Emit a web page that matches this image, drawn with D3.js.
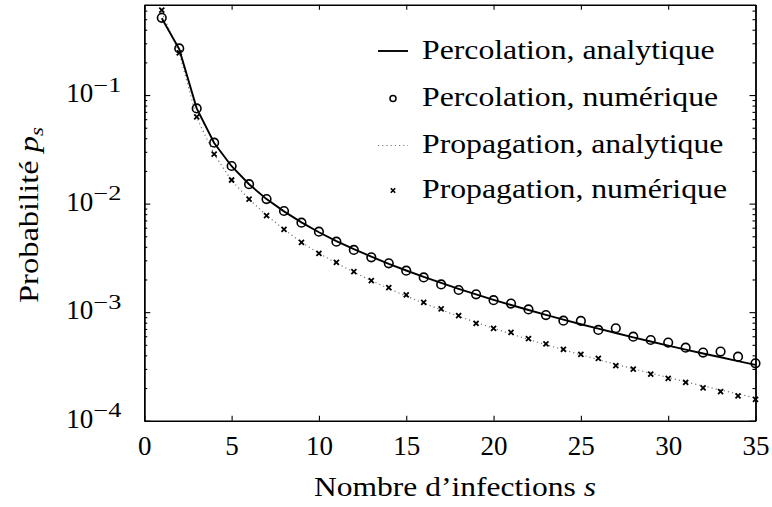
<!DOCTYPE html>
<html>
<head>
<meta charset="utf-8">
<script src="https://cdn.jsdelivr.net/npm/d3@7"></script>
<style>
  html, body { margin: 0; padding: 0; background: #fff; }
  svg text { font-family: "Liberation Serif", "Times New Roman", serif; fill: #000; }
</style>
</head>
<body>
<svg id="chart" width="772" height="507"></svg>
<script>
// Taille de l'épidémie s
const sizes = [1,2,3,4,5,6,7,8,9,10,11,12,13,14,15,16,17,18,19,20,21,22,23,24,25,26,27,28,29,30,31,32,33,34,35];

// Percolation : solution analytique
const percolationAnalytic = [0.51, 0.265, 0.0755, 0.0362, 0.0221, 0.0151, 0.0110, 0.00848, 0.00672, 0.00545,
  0.00452, 0.00381, 0.00325, 0.00279, 0.00242, 0.00211, 0.00186, 0.00164, 0.001457, 0.0013,
  0.001164, 0.001047, 0.000944, 0.000853, 0.000774, 0.000704, 0.000642, 0.000586, 0.000537, 0.000492,
  0.000452, 0.000416, 0.000384, 0.000354, 0.000327];

// Percolation : simulations
const percolationNumeric = [0.515, 0.269, 0.0754, 0.0364, 0.0222, 0.0151, 0.0110, 0.00855, 0.00668, 0.00551,
  0.00446, 0.00374, 0.0032, 0.00282, 0.00241, 0.00209, 0.0018, 0.0016, 0.00146, 0.00129,
  0.0012, 0.00106, 0.00094, 0.000835, 0.00083, 0.000686, 0.000711, 0.000595, 0.000554, 0.000524,
  0.000471, 0.000424, 0.000433, 0.000389, 0.000338];

// Propagation : solution analytique
const propagationAnalytic = [0.58, 0.245, 0.062, 0.0285, 0.0163, 0.0110, 0.0078, 0.0058, 0.0044, 0.003483,
  0.00283, 0.002333, 0.001951, 0.001648, 0.001406, 0.00121, 0.00105, 0.000916, 0.000804, 0.00071,
  0.00063, 0.000561, 0.000501, 0.00045, 0.000405, 0.000366, 0.000331, 0.000301, 0.000274, 0.00025,
  0.000228, 0.000209, 0.000192, 0.000176, 0.000162];

// Propagation : simulations
const propagationNumeric = [0.607, 0.245, 0.063, 0.0286, 0.0165, 0.011, 0.00774, 0.0058, 0.0044, 0.00348,
  0.00288, 0.00236, 0.00195, 0.00168, 0.00144, 0.00123, 0.00107, 0.00093, 0.00079, 0.00071,
  0.00065, 0.00057, 0.00051, 0.000455, 0.000409, 0.000376, 0.000321, 0.000299, 0.000269, 0.000246,
  0.000226, 0.000201, 0.000185, 0.000169, 0.000157];

const xTicks = [0, 5, 10, 15, 20, 25, 30, 35];
const yMajorTicks = [1e-4, 1e-3, 1e-2, 1e-1];
const yExponents = ["−4", "−3", "−2", "−1"];
const legendLabels = ["Percolation, analytique", "Percolation, numérique",
                      "Propagation, analytique", "Propagation, numérique"];

const svg = d3.select("#chart");
const L = 144.3, R = 755.5, T = 4.7, B = 420.7;
const FONT = 27;

const x = d3.scaleLinear().domain([0, 35]).range([L, R]);
const y = d3.scaleLog().domain([1e-4, 0.68]).range([B, T]);

// minor ticks 2..9 × 10^k inside the domain
const yMinor = [];
[-4, -3, -2, -1].forEach(k => {
  for (let m = 2; m <= 9; m++) {
    const v = m * Math.pow(10, k);
    if (v <= y.domain()[1]) yMinor.push(v);
  }
});

const axisStyle = g => {
  g.selectAll("path.domain").attr("stroke", "#000").attr("stroke-width", 1.4);
  g.selectAll(".tick line").attr("stroke", "#000").attr("stroke-width", 1.1);
};

// bottom axis with labels
const gx = svg.append("g").attr("transform", `translate(0,${B})`)
  .call(d3.axisBottom(x).tickValues(xTicks).tickSizeInner(-5).tickSizeOuter(0).tickPadding(15)
    .tickFormat(d3.format("d")))
  .call(axisStyle);
gx.selectAll(".tick text").attr("font-size", FONT).attr("font-family", "Liberation Serif").attr("dy", "0.71em");

// top axis, ticks only
svg.append("g").attr("transform", `translate(0,${T})`)
  .call(d3.axisTop(x).tickValues(xTicks).tickSizeInner(-5).tickSizeOuter(0).tickFormat(""))
  .call(axisStyle);

// left axis: minor ticks
svg.append("g").attr("transform", `translate(${L},0)`)
  .call(d3.axisLeft(y).tickValues(yMinor).tickSizeInner(-3).tickSizeOuter(0).tickFormat(""))
  .call(axisStyle);
// left axis: major ticks with labels 10^k
const gy = svg.append("g").attr("transform", `translate(${L},0)`)
  .call(d3.axisLeft(y).tickValues(yMajorTicks).tickSizeInner(-6).tickSizeOuter(0).tickPadding(23)
    .tickFormat(""))
  .call(axisStyle);
gy.selectAll(".tick text").each(function (d, i) {
  const t = d3.select(this).text(null)
    .attr("font-size", FONT).attr("font-family", "Liberation Serif")
    .attr("dy", null).attr("y", 6.5);
  t.append("tspan").text("10");
  t.append("tspan").attr("font-size", 20).attr("dy", -10.5)
    .attr("textLength", 28).attr("lengthAdjust", "spacingAndGlyphs").text(yExponents[i]);
});

// right axis, ticks only
svg.append("g").attr("transform", `translate(${R},0)`)
  .call(d3.axisRight(y).tickValues(yMinor).tickSizeInner(-3).tickSizeOuter(0).tickFormat(""))
  .call(axisStyle);
svg.append("g").attr("transform", `translate(${R},0)`)
  .call(d3.axisRight(y).tickValues(yMajorTicks).tickSizeInner(-6).tickSizeOuter(0).tickFormat(""))
  .call(axisStyle);

// series
const pts = vals => sizes.map((s, i) => [s, vals[i]]);
const line = d3.line().x(d => x(d[0])).y(d => y(d[1]));
const plot = svg.append("g");

plot.append("path").datum(pts(propagationAnalytic))
  .attr("d", line).attr("fill", "none").attr("stroke", "#777")
  .attr("stroke-width", 1.2).attr("stroke-dasharray", "1.2,3");

plot.append("path").datum(pts(percolationAnalytic))
  .attr("d", line).attr("fill", "none").attr("stroke", "#000").attr("stroke-width", 1.9);

plot.selectAll("circle.perc").data(pts(percolationNumeric)).join("circle")
  .attr("class", "perc")
  .attr("cx", d => x(d[0])).attr("cy", d => y(d[1])).attr("r", 4.3)
  .attr("fill", "none").attr("stroke", "#000").attr("stroke-width", 1.6);

const cross = (sel, h, w) => sel.append("path")
  .attr("d", `M${-h},${-h}L${h},${h}M${-h},${h}L${h},${-h}`)
  .attr("stroke", "#000").attr("stroke-width", w).attr("fill", "none");

plot.selectAll("g.prop").data(pts(propagationNumeric)).join("g")
  .attr("class", "prop")
  .attr("transform", d => `translate(${x(d[0])},${y(d[1])})`)
  .each(function () { cross(d3.select(this), 2.5, 1.8); });

// legend
const legend = svg.append("g");
const rowY = [51, 98.5, 145.5, 190.5];
const symX0 = 378, symX1 = 408, textX = 422;
legend.append("line").attr("x1", symX0).attr("x2", symX1).attr("y1", rowY[0]).attr("y2", rowY[0])
  .attr("stroke", "#000").attr("stroke-width", 1.9);
legend.append("circle").attr("cx", (symX0 + symX1) / 2).attr("cy", rowY[1]).attr("r", 3)
  .attr("fill", "none").attr("stroke", "#000").attr("stroke-width", 1.5);
legend.append("line").attr("x1", symX0).attr("x2", symX1).attr("y1", rowY[2]).attr("y2", rowY[2])
  .attr("stroke", "#777").attr("stroke-width", 1.2).attr("stroke-dasharray", "1.2,3");
cross(legend.append("g").attr("transform", `translate(${(symX0 + symX1) / 2},${rowY[3]})`), 2.2, 1.6);

const legendTexts = legend.selectAll("text").data(legendLabels).join("text")
  .attr("x", textX).attr("y", (d, i) => rowY[i] + 7.5)
  .attr("font-size", FONT)
  .text(d => d);
// horizontal stretch so that the widest entry ends at x = 727
const widths = legendTexts.nodes().map(n => n.getComputedTextLength());
const stretch = (727 - textX) / d3.max(widths);
legendTexts.each(function (d, i) {
  d3.select(this).attr("textLength", widths[i] * stretch).attr("lengthAdjust", "spacingAndGlyphs");
});

// axis titles
const xTitle = svg.append("text").attr("x", 314).attr("y", 496).attr("font-size", FONT);
xTitle.append("tspan").text("Nombre d’infections ");
xTitle.append("tspan").attr("font-style", "italic").text("s");
xTitle.attr("textLength", 282).attr("lengthAdjust", "spacingAndGlyphs");

const yTitle = svg.append("text")
  .attr("transform", "translate(38,303) rotate(-90)")
  .attr("x", 0).attr("y", 0).attr("font-size", FONT);
yTitle.append("tspan").text("Probabilité ");
yTitle.append("tspan").attr("font-style", "italic").text("p");
yTitle.append("tspan").attr("font-style", "italic").attr("font-size", 19).attr("dy", 5).text("s");
yTitle.attr("textLength", 176).attr("lengthAdjust", "spacingAndGlyphs");
</script>
</body>
</html>
